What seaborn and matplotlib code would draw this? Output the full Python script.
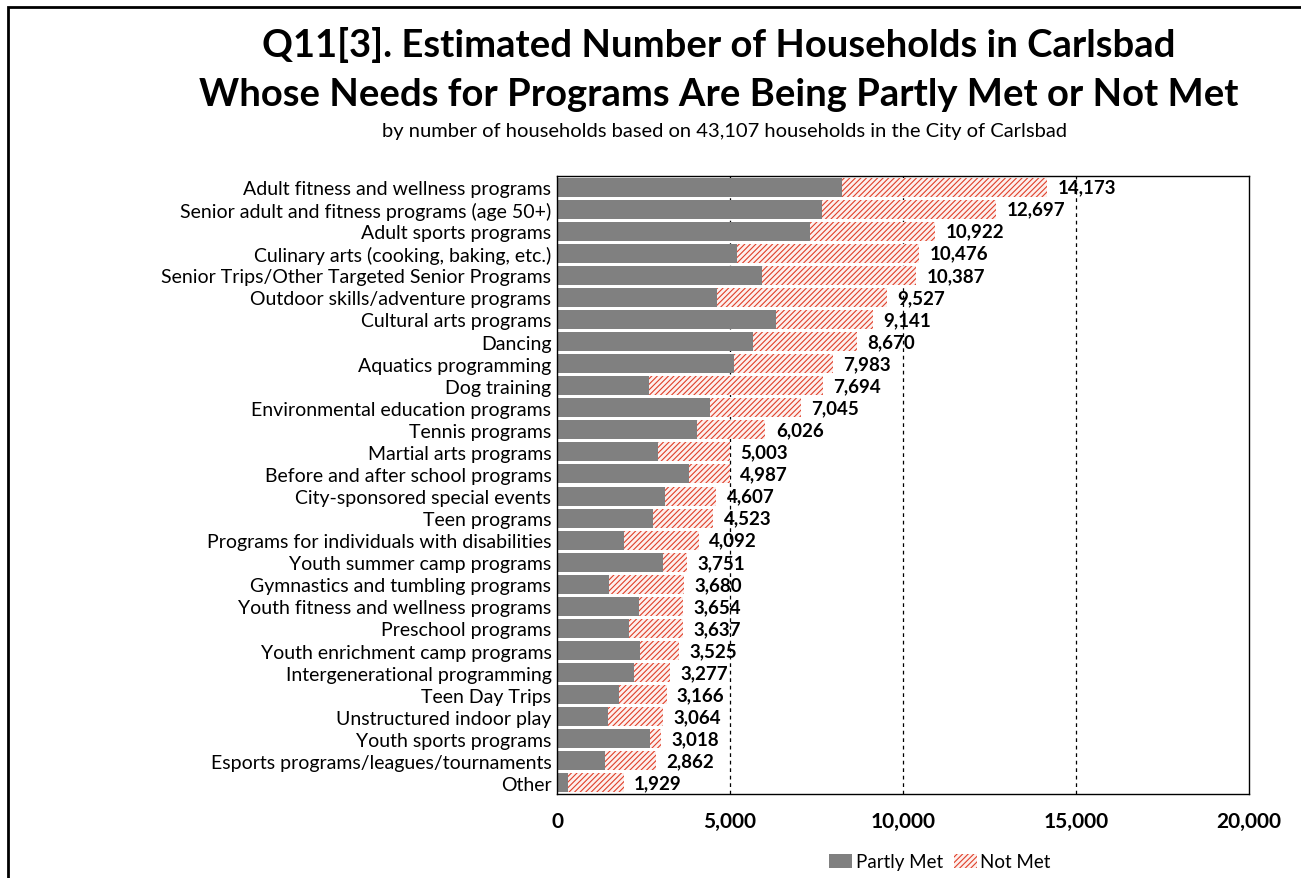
import numpy as np
import pandas as pd
import matplotlib
matplotlib.use("Agg")
import matplotlib.pyplot as plt
import seaborn as sns
from matplotlib.patches import Patch, Rectangle

programs = [
    "Adult fitness and wellness programs",
    "Senior adult and fitness programs (age 50+)",
    "Adult sports programs",
    "Culinary arts (cooking, baking, etc.)",
    "Senior Trips/Other Targeted Senior Programs",
    "Outdoor skills/adventure programs",
    "Cultural arts programs",
    "Dancing",
    "Aquatics programming",
    "Dog training",
    "Environmental education programs",
    "Tennis programs",
    "Martial arts programs",
    "Before and after school programs",
    "City-sponsored special events",
    "Teen programs",
    "Programs for individuals with disabilities",
    "Youth summer camp programs",
    "Gymnastics and tumbling programs",
    "Youth fitness and wellness programs",
    "Preschool programs",
    "Youth enrichment camp programs",
    "Intergenerational programming",
    "Teen Day Trips",
    "Unstructured indoor play",
    "Youth sports programs",
    "Esports programs/leagues/tournaments",
    "Other",
]
totals = [14173, 12697, 10922, 10476, 10387, 9527, 9141, 8670, 7983, 7694,
          7045, 6026, 5003, 4987, 4607, 4523, 4092, 3751, 3680, 3654,
          3637, 3525, 3277, 3166, 3064, 3018, 2862, 1929]
partly_met = [8230, 7650, 7300, 5210, 5930, 4610, 6330, 5660, 5120, 2670,
              4420, 4040, 2920, 3810, 3110, 2770, 1940, 3060, 1510, 2380,
              2090, 2410, 2220, 1800, 1480, 2700, 1400, 310]

df = pd.DataFrame({"program": programs, "total": totals, "partly": partly_met})

sns.set_theme(style="white")
plt.rcParams["font.family"] = ["Lato", "DejaVu Sans"]
plt.rcParams["text.color"] = "black"
plt.rcParams["xtick.color"] = "black"
plt.rcParams["ytick.color"] = "black"
plt.rcParams["hatch.linewidth"] = 0.8

fig = plt.figure(figsize=(13.01, 8.79), dpi=100)
ax = fig.add_axes([557 / 1301, 1 - 795 / 879, (1249 - 557) / 1301, (795 - 177) / 879])

red = "#e0402a"
# Not Met = hatched remainder, drawn as full total first
sns.barplot(data=df, x="total", y="program", color="#fdf0ee", width=0.86,
            orient="h", ax=ax, saturation=1)
for p in ax.patches:
    p.set_hatch("//////")
    p.set_edgecolor(red)
    p.set_linewidth(0)
n_tot = len(ax.patches)
sns.barplot(data=df, x="partly", y="program", color="#808080", width=0.86,
            orient="h", ax=ax, saturation=1)
for p in ax.patches[n_tot:]:
    p.set_linewidth(0)

for i, t in enumerate(totals):
    ax.text(t + 300, i, f"{t:,}", va="center", ha="left", fontsize=13.5,
            fontweight="bold", color="black")

ax.set_xlim(0, 20000)
ax.set_ylim(len(programs) - 0.5, -0.5)
ax.set_xticks([0, 5000, 10000, 15000, 20000])
ax.set_xticklabels(["0", "5,000", "10,000", "15,000", "20,000"],
                   fontsize=15, fontweight="bold")
ax.tick_params(axis="x", pad=12, length=0)
ax.tick_params(axis="y", labelsize=14, length=0, pad=4)
ax.set_xlabel("")
ax.set_ylabel("")
for x in [5000, 10000, 15000]:
    ax.axvline(x, color="black", linestyle=(0, (3, 3)), linewidth=0.9, zorder=0)
for s in ax.spines.values():
    s.set_visible(True)
    s.set_color("black")
    s.set_linewidth(1)

fig.text(719 / 1301, 1 - 45 / 879, "Q11[3]. Estimated Number of Households in Carlsbad",
         ha="center", va="center", fontsize=27.5, fontweight="bold")
fig.text(719 / 1301, 1 - 95 / 879, "Whose Needs for Programs Are Being Partly Met or Not Met",
         ha="center", va="center", fontsize=27.5, fontweight="bold")
fig.text(724 / 1301, 1 - 131 / 879,
         "by number of households based on 43,107 households in the City of Carlsbad",
         ha="center", va="center", fontsize=14.5)

handles = [Patch(facecolor="#808080", edgecolor="none", label="Partly Met"),
           Patch(facecolor="#fdf0ee", edgecolor=red, hatch="//////", linewidth=0,
                 label="Not Met")]
fig.legend(handles=handles, loc="center", bbox_to_anchor=(940 / 1301, 1 - 863 / 879),
           ncol=2, frameon=False, fontsize=13.5, handlelength=1.2,
           handletextpad=0.2, columnspacing=0.6)

fig.patches.append(Rectangle((8 / 1301, -0.05), 1.1, 1 - 8 / 879 + 0.05,
                             transform=fig.transFigure, fill=False,
                             edgecolor="black", linewidth=2))

fig.savefig("out.png", dpi=100)
